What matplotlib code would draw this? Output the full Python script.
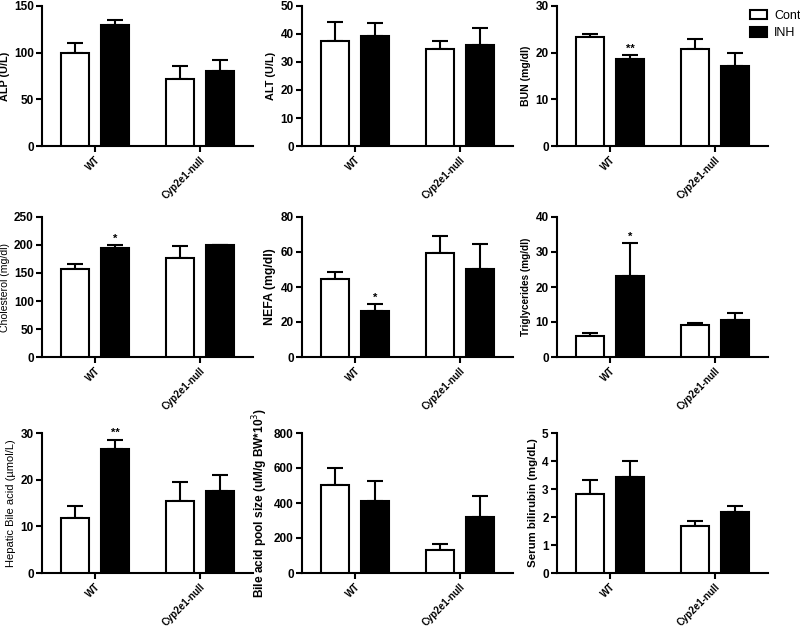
import matplotlib
matplotlib.use("Agg")
import matplotlib.pyplot as plt
import numpy as np

plt.rcParams['font.family'] = ['Liberation Sans', 'DejaVu Sans']

groups = ["WT", "Cyp2e1-null"]
series = ["Cont", "INH"]

ylabels = ["ALP (U/L)", "ALT (U/L)", "BUN (mg/dl)",
           "Cholesterol (mg/dl)", "NEFA (mg/dl)", "Triglycerides (mg/dl)",
           "Hepatic Bile acid (\u00b5mol/L)", "Bile acid pool size (uM/g BW*10$^3$)",
           "Serum bilirubin (mg/dL)"]
label_bold = [True, True, True, False, True, True, False, True, True]
label_size = [7.8, 7.8, 7.6, 7.6, 8.8, 7.2, 8.0, 8.6, 8.2]

ymax = [150, 50, 30, 250, 80, 40, 30, 800, 5]
ystep = [50, 10, 10, 50, 20, 10, 10, 200, 1]

# means: [WT, Cyp2e1-null]
cont_mean = [[100, 72], [37.4, 34.7], [23.3, 20.7], [157, 177.5], [44.4, 59.4],
             [5.9, 9.25], [11.7, 15.5], [505, 131], [2.83, 1.67]]
cont_err = [[10, 14], [7, 2.8], [0.7, 2.3], [8.5, 21], [4.2, 9.7],
            [1.0, 0.55], [2.7, 4.1], [97, 34], [0.49, 0.18]]
inh_mean = [[129.5, 80.5], [39.4, 36.2], [18.7, 17.1], [195.5, 200.2], [26.1, 50.1],
            [23.2, 10.7], [26.5, 17.5], [410, 322], [3.43, 2.17]]
inh_err = [[5.5, 11.5], [4.6, 5.8], [0.7, 2.9], [4.2, 0.6], [4.2, 14.3],
           [9.3, 2.0], [2.1, 3.6], [114, 116], [0.56, 0.21]]
stars = [["", ""], ["", ""], ["**", ""], ["*", ""], ["*", ""],
         ["*", ""], ["**", ""], ["", ""], ["", ""]]

fig = plt.figure(figsize=(8.0, 6.29), dpi=100)

lefts = [42 / 800, 302 / 800, 557 / 800]
bottoms = [1 - 146 / 629, 1 - 357 / 629, 1 - 573 / 629]
w = 211 / 800
h = 140 / 629

x = np.arange(len(groups))
off = 0.19
bw = 0.26
lw = 1.5

for i in range(9):
    r, c = divmod(i, 3)
    ax = fig.add_axes([lefts[c], bottoms[r], w, h])
    cm, ce = cont_mean[i], cont_err[i]
    im, ie = inh_mean[i], inh_err[i]
    b1 = ax.bar(x - off, cm, bw, color='white', edgecolor='black', linewidth=lw,
                label=series[0], zorder=3)
    b2 = ax.bar(x + off, im, bw, color='black', edgecolor='black', linewidth=lw,
                label=series[1], zorder=3)
    ax.errorbar(x - off, cm, yerr=[np.zeros(2), ce], fmt='none', ecolor='black',
                elinewidth=lw, capsize=5.5, capthick=lw, zorder=2)
    ax.errorbar(x + off, im, yerr=[np.zeros(2), ie], fmt='none', ecolor='black',
                elinewidth=lw, capsize=5.5, capthick=lw, zorder=2)
    for j in range(2):
        if stars[i][j]:
            ax.text(x[j] + off, im[j] + ie[j] + ymax[i] * 0.01, stars[i][j],
                    ha='center', va='bottom', fontsize=8, fontweight='bold')
    ax.set_xlim(-0.505, 1.505)
    ax.set_ylim(0, ymax[i])
    ax.set_yticks(np.arange(0, ymax[i] + ystep[i] / 2, ystep[i]))
    ax.set_xticks(x)
    ax.set_xticklabels(groups, rotation=45, ha='right', rotation_mode='anchor',
                       fontsize=7, fontweight='bold')
    for t in ax.get_yticklabels():
        t.set_fontsize(8.5)
        t.set_fontweight('bold')
    ax.spines['top'].set_visible(False)
    ax.spines['right'].set_visible(False)
    ax.spines['left'].set_linewidth(lw)
    ax.spines['bottom'].set_linewidth(lw)
    ax.tick_params(axis='both', width=lw, length=4, direction='out', pad=2)
    ax.set_ylabel(ylabels[i], fontsize=label_size[i],
                  fontweight='bold' if label_bold[i] else 'normal', labelpad=3)
    if i == 2:
        ax.legend(handles=[b1, b2], loc='upper left', bbox_to_anchor=(0.893, 1.01),
                  frameon=False, fontsize=9, handlelength=1.3, handleheight=0.8,
                  borderaxespad=0, handletextpad=0.6, labelspacing=0.45)

fig.savefig("out.png", dpi=100)
